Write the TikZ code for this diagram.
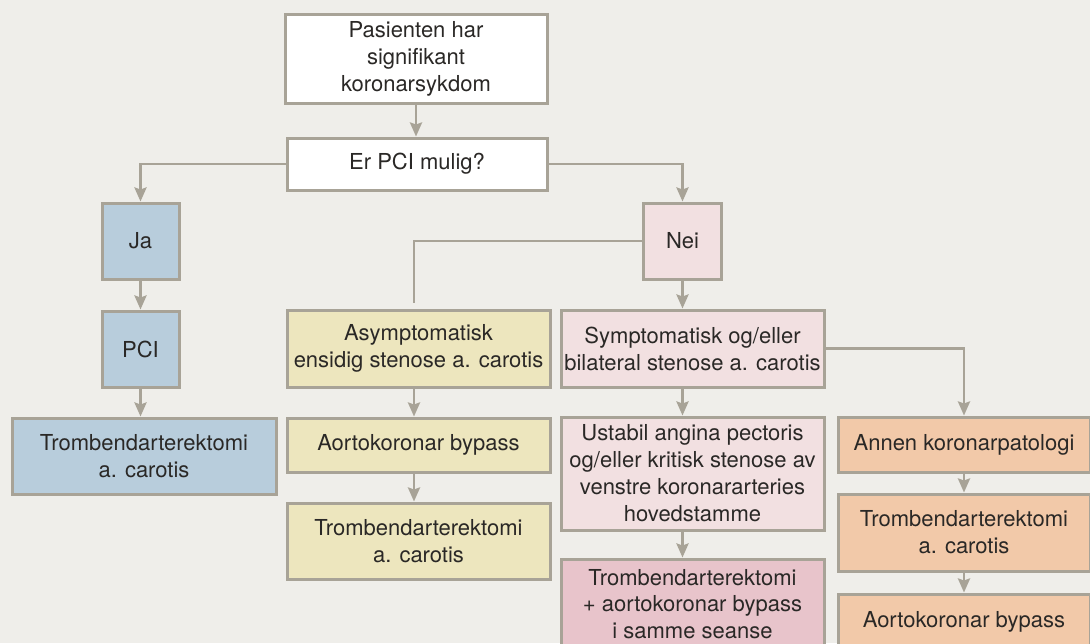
\documentclass[tikz,border=0pt]{standalone}
\usepackage{fontspec}
\setmainfont{TeX Gyre Heros}
\usetikzlibrary{arrows.meta}

\definecolor{bggray}{HTML}{EFEEEA}
\definecolor{edgegray}{HTML}{A8A397}
\definecolor{boxblue}{HTML}{B8CDDC}
\definecolor{boxpink}{HTML}{F2E0E1}
\definecolor{boxyellow}{HTML}{EDE6BE}
\definecolor{boxorange}{HTML}{F2C9A9}
\definecolor{boxrose}{HTML}{E8C4CB}
\definecolor{textgray}{HTML}{2A2826}

\begin{document}
\begin{tikzpicture}[
    x=1pt, y=-1pt,
    font=\fontsize{22}{27}\selectfont,
    box/.style={draw=edgegray, line width=3pt, align=center, inner sep=0pt, text=textgray},
    boxsize/.style 2 args={minimum width=#1pt, minimum height=#2pt},
    arr/.style={draw=edgegray, line width=2.8pt, -{Stealth[length=14pt, width=12pt, inset=2pt]}},
    link/.style={draw=edgegray, line width=2.8pt}
  ]
  % page
  \useasboundingbox (0,0) rectangle (1090,643);
  \fill [bggray] (0,0) rectangle (1090,643);

  % top of the chart
  \node [box, fill=white, boxsize={262}{89}] (start) at (416,58.5) {Pasienten har\\signifikant\\koronarsykdom};
  \node [box, fill=white, boxsize={260}{52}] (pci?) at (417,164) {Er PCI mulig?};

  % yes branch
  \node [box, fill=boxblue, boxsize={77}{76}] (ja) at (140.5,241) {Ja};
  \node [box, fill=boxblue, boxsize={77}{76}] (pci) at (140.5,349) {PCI};
  \node [box, fill=boxblue, boxsize={264}{76}] (tea) at (144,456) {Trombendarterektomi\\a. carotis};

  % no branch
  \node [box, fill=boxpink, boxsize={78}{76}] (nei) at (682.5,241) {Nei};
  \coordinate (asymtop) at (414,303);
  \node [box, fill=boxyellow, boxsize={263}{77}] (asym) at (418.5,348.5) {Asymptomatisk\\ensidig stenose a. carotis};
  \node [box, fill=boxyellow, boxsize={263}{54}] (cabgb) at (418.5,445) {Aortokoronar bypass};
  \node [box, fill=boxyellow, boxsize={263}{76}] (teab) at (418.5,541) {Trombendarterektomi\\a. carotis};

  \node [box, fill=boxpink, boxsize={263}{77}] (sym) at (692.5,348.5) {Symptomatisk og/eller\\bilateral stenose a. carotis};
  \node [box, fill=boxpink, boxsize={263}{113}] (ustabil) at (692.5,473.5) {Ustabil angina pectoris\\og/eller kritisk stenose av\\venstre koronararteries\\hovedstamme};
  \node [box, fill=boxrose, boxsize={263}{90}, font=\fontsize{22}{26.5}\selectfont] (samme) at (692.5,604) {Trombendarterektomi\\+ aortokoronar bypass\\i samme seanse};

  \node [box, fill=boxorange, boxsize={252}{55}] (annen) at (964,444.5) {Annen koronarpatologi};
  \node [box, fill=boxorange, boxsize={252}{77}] (tead) at (964,532.5) {Trombendarterektomi\\a. carotis};
  \node [box, fill=boxorange, boxsize={252}{56}] (cabgd) at (964,622) {Aortokoronar bypass};

  % connectors
  \draw [arr] (start.south) -- (start.south |- pci?.north);
  \draw [arr] (pci?.west) -| (ja.north);
  \draw [arr] (pci?.east) -| (nei.north);
  \draw [arr] (ja.south) -- (pci.north);
  \draw [arr] (pci.south) -- (pci.south |- tea.north);

  \draw [link] (nei.west) -| (asymtop);
  \draw [arr] (asym.south -| asymtop) -- (asymtop |- cabgb.north);
  \draw [arr] (cabgb.south -| asymtop) -- (asymtop |- teab.north);

  \draw [arr] (nei.south) -- (nei.south |- sym.north);
  \draw [arr] (sym.south -| nei.south) -- (nei.south |- ustabil.north);
  \draw [arr] (ustabil.south -| nei.south) -- (nei.south |- samme.north);

  \draw [arr] (sym.east) -| (annen.north);
  \draw [arr] (annen.south) -- (tead.north);
  \draw [arr] (tead.south) -- (cabgd.north);
\end{tikzpicture}
\end{document}
